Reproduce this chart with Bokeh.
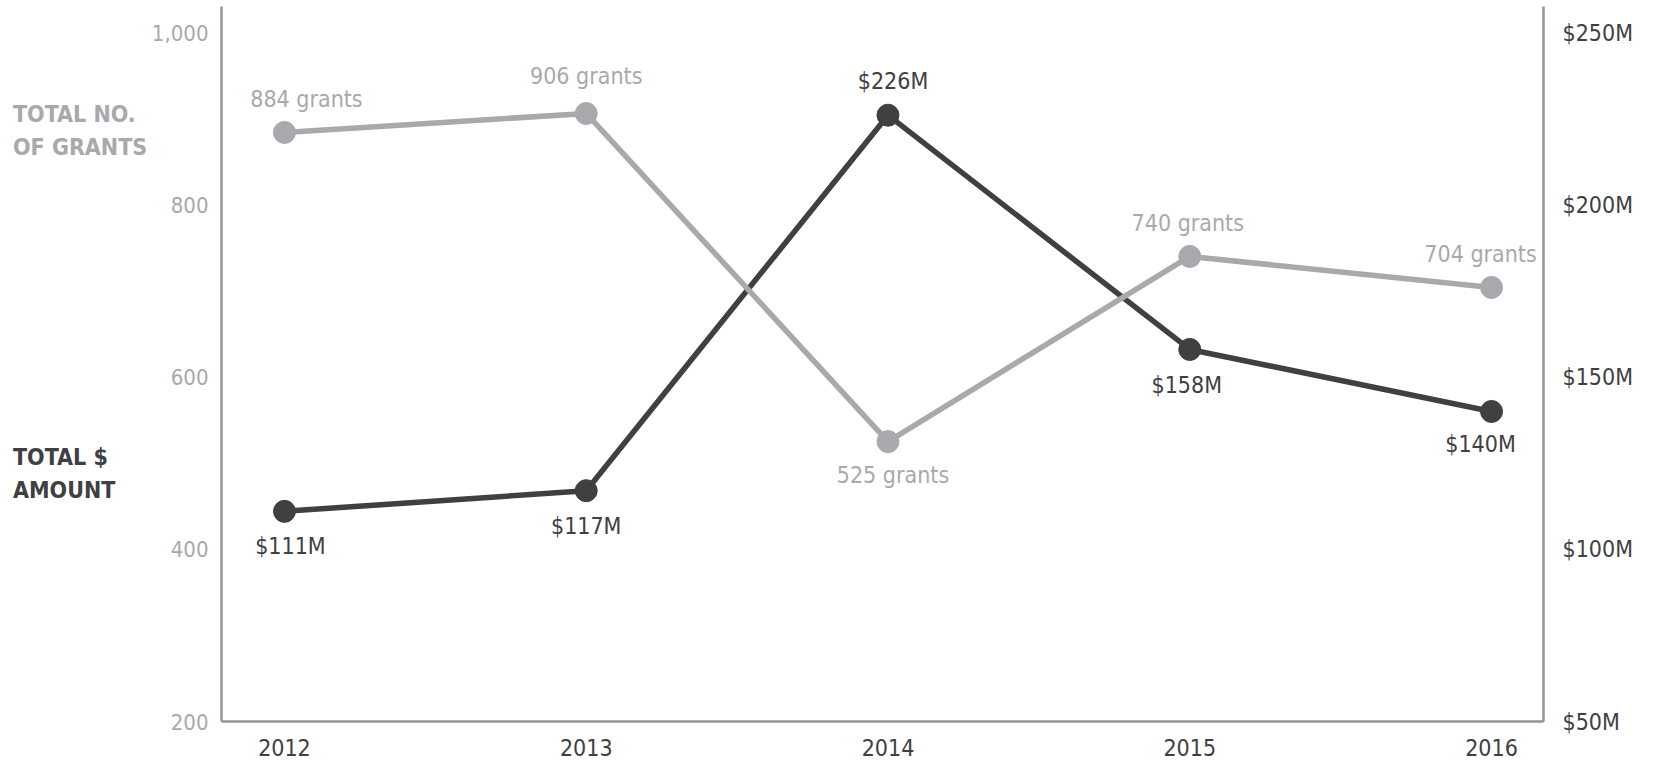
from bokeh.plotting import figure
from bokeh.models import Range1d, LinearAxis, FixedTicker, ColumnDataSource, Div
from bokeh.layouts import row
from bokeh.core.properties import value
from bokeh.embed import file_html
from bokeh.resources import INLINE

# ---- data ----
years = [2012, 2013, 2014, 2015, 2016]
year_labels = ["2012", "2013", "2014", "2015", "2016"]
grants = [884, 906, 525, 740, 704]
amount_musd = [111, 117, 226, 158, 140]
grant_ticks = [200, 400, 600, 800, 1000]
grant_tick_labels = ["200", "400", "600", "800", "1,000"]
amount_ticks = [50, 100, 150, 200, 250]
amount_tick_labels = ["$50M", "$100M", "$150M", "$200M", "$250M"]

# ---- label placement (style) ----
grant_label_dy = [-33, -37, 33, -33, -33]
grant_label_dx = [22, 0, 5, -2, -11]
amount_label_dy = [35, 35, -34, 36, 33]
amount_label_dx = [6, 0, 5, -3, -11]

FONTNAME = "DejaVu Sans Condensed"
FONT = value(FONTNAME)
GRAY = "#a7a9ac"
DARK = "#404042"
AXIS = "#939598"

TOTAL_W, H = 1650, 766
SIDE_W = 148

x0, x1 = 2011.7914, 2016.1722
y0, y1 = 200, 1030.2

p = figure(width=TOTAL_W - SIDE_W, height=H, output_backend="svg",
           toolbar_location=None,
           x_range=Range1d(x0, x1), y_range=Range1d(y0, y1),
           min_border_left=220 - SIDE_W, min_border_right=TOTAL_W - 1543,
           min_border_top=6, min_border_bottom=H - 721)
p.extra_y_ranges = {"amt": Range1d(y0 / 4.0, y1 / 4.0)}
p.outline_line_color = None
p.xgrid.visible = False
p.ygrid.visible = False
p.background_fill_color = "white"
p.border_fill_color = "white"


def style_axis(ax, size, color, standoff):
    ax.axis_line_color = AXIS
    ax.axis_line_width = 2.5
    ax.major_tick_line_color = None
    ax.minor_tick_line_color = None
    ax.major_tick_out = 0
    ax.major_tick_in = 0
    ax.major_label_standoff = standoff
    ax.major_label_text_font = FONTNAME
    ax.major_label_text_font_size = size
    ax.major_label_text_color = color


# left axis (grants)
ya = p.yaxis[0]
ya.ticker = FixedTicker(ticks=grant_ticks)
ya.major_label_overrides = dict(zip(grant_ticks, grant_tick_labels))
style_axis(ya, "22px", GRAY, 13)

# bottom axis (years)
xa = p.xaxis[0]
xa.ticker = FixedTicker(ticks=years)
xa.major_label_overrides = dict(zip(years, year_labels))
style_axis(xa, "23px", DARK, 17)

# right axis (amount)
ra = LinearAxis(y_range_name="amt", ticker=FixedTicker(ticks=amount_ticks))
ra.major_label_overrides = dict(zip(amount_ticks, amount_tick_labels))
style_axis(ra, "23px", DARK, 19)
p.add_layout(ra, "right")

# sources
amt_src = ColumnDataSource(dict(
    x=years, y=amount_musd,
    text=["$%dM" % a for a in amount_musd],
    dx=amount_label_dx, dy=amount_label_dy))
gr_src = ColumnDataSource(dict(
    x=years, y=grants,
    text=["%d grants" % g for g in grants],
    dx=grant_label_dx, dy=grant_label_dy))

# amount series (dark)
p.line("x", "y", source=amt_src, y_range_name="amt", line_color=DARK, line_width=5.5)
p.scatter("x", "y", source=amt_src, y_range_name="amt", size=22,
          fill_color=DARK, line_color=DARK)
p.text("x", "y", text="text", source=amt_src, y_range_name="amt",
       x_offset="dx", y_offset="dy", text_align="center", text_baseline="middle",
       text_font=FONT, text_font_size="23px", text_color=DARK)

# grants series (light gray)
p.line("x", "y", source=gr_src, line_color=GRAY, line_width=5.5)
p.scatter("x", "y", source=gr_src, size=22, fill_color=GRAY, line_color=GRAY)
p.text("x", "y", text="text", source=gr_src,
       x_offset="dx", y_offset="dy", text_align="center", text_baseline="middle",
       text_font=FONT, text_font_size="23px", text_color=GRAY)

# side titles
block = ("position:absolute; left:13px; top:%dpx; font-family:'DejaVu Sans Condensed';"
         " font-weight:bold; font-size:23px; line-height:33px; white-space:nowrap;"
         " color:%s;")
html = ('<div style="position:relative; width:%dpx; height:%dpx;">' % (SIDE_W, H)
        + '<div style="%s">TOTAL NO.<br>OF GRANTS</div>' % (block % (98, GRAY))
        + '<div style="%s">TOTAL $<br>AMOUNT</div>' % (block % (441, DARK))
        + '</div>')
side = Div(text=html, width=SIDE_W, height=H, margin=0)

layout = row(side, p)
open("out.html", "w").write(file_html(layout, INLINE))
